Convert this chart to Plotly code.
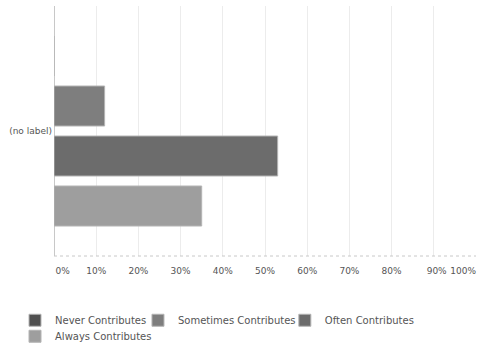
import plotly.graph_objects as go

categories = ["(no label)"]
series_names = ["Never Contributes", "Sometimes Contributes", "Often Contributes", "Always Contributes"]
never_vals = [0]
sometimes_vals = [12]
often_vals = [53]
always_vals = [35]
tick_vals = [0, 10, 20, 30, 40, 50, 60, 70, 80, 90, 100]
tick_text = ["\u00a0" * 6 + "0%", "10%", "20%", "30%", "40%", "50%", "60%", "70%", "80%",
             "\u00a0" * 2 + "90%", "100%" + "\u00a0" * 9]

colors = ["#505050", "#7e7e7e", "#6c6c6c", "#9e9e9e"]
values = [never_vals, sometimes_vals, often_vals, always_vals]
legend_ids = ["legend", "legend3", "legend4", "legend2"]

fig = go.Figure()
# add in reverse so the first series sits at the top of the group
for i in reversed(range(4)):
    fig.add_trace(go.Bar(
        y=categories, x=values[i], name=series_names[i], orientation="h",
        marker=dict(color=colors[i], line=dict(color="#b4b4b4", width=1)),
        legendrank=i + 1, legend=legend_ids[i],
    ))

font_family = "DejaVu Sans"
legend_common = dict(orientation="h", xref="paper", yref="paper",
                     xanchor="left", yanchor="top",
                     font=dict(family=font_family, size=10, color="#555555"),
                     itemwidth=30, tracegroupgap=0, bgcolor="rgba(0,0,0,0)")
fig.update_layout(
    width=478, height=343,
    margin=dict(l=54, r=2, t=6, b=87, autoexpand=False),
    paper_bgcolor="white", plot_bgcolor="white",
    barmode="group", bargap=0.2, bargroupgap=0.2,
    font=dict(family=font_family, size=9, color="#555555"),
    showlegend=True,
    legend=dict(legend_common, x=-0.0924, y=-0.199),
    legend3=dict(legend_common, x=0.199, y=-0.199),
    legend4=dict(legend_common, x=0.547, y=-0.199),
    legend2=dict(legend_common, x=-0.0924, y=-0.263),
    xaxis=dict(range=[0, 100], tickvals=tick_vals, ticktext=tick_text,
               showgrid=True, gridcolor="#ececec", gridwidth=1,
               zeroline=True, zerolinecolor="#c8c8c8", zerolinewidth=1,
               showline=False, ticks="", ticklabelstandoff=8, tickangle=0,
               ticklabeloverflow="allow", automargin=False,
               tickfont=dict(size=9, color="#555555"), fixedrange=True),
    yaxis=dict(showgrid=False, zeroline=False, showline=False, ticks="",
               automargin=False,
               tickfont=dict(size=9, color="#555555"), ticklabelstandoff=1),
    shapes=[dict(type="line", xref="paper", yref="paper", x0=0, x1=1, y0=0, y1=0,
                 line=dict(color="#c8c8c8", width=1, dash="dot"))],
)

fig.write_html("out.html")
